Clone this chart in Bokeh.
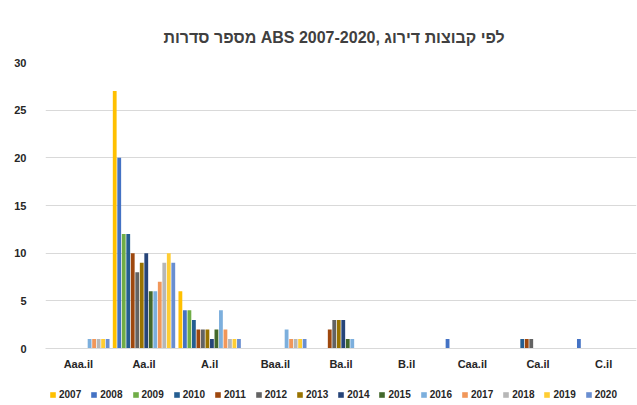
from bokeh.plotting import figure
from bokeh.layouts import column
from bokeh.models import FactorRange, ColumnDataSource, FixedTicker, Legend, LegendItem, Range1d
from bokeh.transform import dodge
from bokeh.embed import file_html
from bokeh.resources import INLINE

categories = ["Aaa.il", "Aa.il", "A.il", "Baa.il", "Ba.il", "B.il", "Caa.il", "Ca.il", "C.il"]
years = ["2007", "2008", "2009", "2010", "2011", "2012", "2013",
         "2014", "2015", "2016", "2017", "2018", "2019", "2020"]

v2007 = [0, 27, 6, 0, 0, 0, 0, 0, 0]
v2008 = [0, 20, 4, 0, 0, 0, 1, 0, 1]
v2009 = [0, 12, 4, 0, 0, 0, 0, 0, 0]
v2010 = [0, 12, 3, 0, 0, 0, 0, 1, 0]
v2011 = [0, 10, 2, 0, 2, 0, 0, 1, 0]
v2012 = [0, 8, 2, 0, 3, 0, 0, 1, 0]
v2013 = [0, 9, 2, 0, 3, 0, 0, 0, 0]
v2014 = [0, 10, 1, 0, 3, 0, 0, 0, 0]
v2015 = [0, 6, 2, 0, 1, 0, 0, 0, 0]
v2016 = [1, 6, 4, 2, 1, 0, 0, 0, 0]
v2017 = [1, 7, 2, 1, 0, 0, 0, 0, 0]
v2018 = [1, 9, 1, 1, 0, 0, 0, 0, 0]
v2019 = [1, 10, 1, 1, 0, 0, 0, 0, 0]
v2020 = [1, 9, 1, 1, 0, 0, 0, 0, 0]

series = [v2007, v2008, v2009, v2010, v2011, v2012, v2013,
          v2014, v2015, v2016, v2017, v2018, v2019, v2020]
colors = ["#FFC000", "#4472C4", "#70AD47", "#255E91", "#9E480E", "#636363", "#997300",
          "#264478", "#43682B", "#7CAFDD", "#F1975A", "#B7B7B7", "#FFCD33", "#698ED0"]

y_ticks = [0, 5, 10, 15, 20, 25, 30]
title_text = "מספר סדרות ABS 2007-2020, לפי קבוצות דירוג"

FONT = "Liberation Sans"

p = figure(x_range=FactorRange(factors=categories), y_range=(0, 30),
           width=637, height=378, output_backend="svg", toolbar_location=None,
           title=title_text,
           min_border_left=45, min_border_right=1, min_border_top=62,
           min_border_bottom=30)

p.title.align = "left"
p.title.offset = 118
p.title.text_font = FONT
p.title.text_font_size = "16px"
p.title.text_font_style = "bold"
p.title.text_color = "#404040"
p.title.standoff = 34

step = 0.0686
bw = 0.058
n = len(years)

# legend strip below the chart (its bars lie far outside its visible range)
lg = figure(width=637, height=27, output_backend="svg", toolbar_location=None,
            x_range=FactorRange(factors=categories), y_range=Range1d(1000, 1001),
            x_axis_location=None, y_axis_location=None, min_border=0)
lg.grid.grid_line_color = None
lg.outline_line_color = None
lg.outline_line_alpha = 0
lg.background_fill_color = None
lg.border_fill_color = None

items = []
for i, (yr, vals, col) in enumerate(zip(years, series, colors)):
    src = ColumnDataSource(dict(cat=categories, val=vals))
    off = (i - (n - 1) / 2) * step
    p.vbar(x=dodge("cat", off, range=p.x_range), top="val", width=bw,
           source=src, fill_color=col, line_color=None)
    key = lg.vbar(x=dodge("cat", off, range=lg.x_range), top="val", width=bw,
                  source=src, fill_color=col, line_color=None)
    items.append(LegendItem(label=yr, renderers=[key]))

legend = Legend(items=items, orientation="horizontal", location=(4, 5),
                label_text_font=FONT, label_text_font_style="bold",
                label_text_font_size="10px", label_text_color="#262626",
                glyph_width=7, glyph_height=7, label_standoff=3, spacing=9,
                label_height=12, border_line_color=None, background_fill_alpha=0,
                padding=2, margin=0)
lg.add_layout(legend, "center")

p.yaxis.ticker = FixedTicker(ticks=y_ticks)
p.yaxis.axis_line_color = None
p.yaxis.major_tick_line_color = None
p.yaxis.minor_tick_line_color = None
p.yaxis.major_label_text_font = FONT
p.yaxis.major_label_text_font_style = "bold"
p.yaxis.major_label_text_font_size = "11px"
p.yaxis.major_label_text_color = "#262626"
p.yaxis.major_label_standoff = 13

p.xaxis.axis_line_color = "#D9D9D9"
p.xaxis.major_tick_line_color = None
p.xaxis.minor_tick_line_color = None
p.xaxis.major_label_text_font = FONT
p.xaxis.major_label_text_font_style = "bold"
p.xaxis.major_label_text_font_size = "11px"
p.xaxis.major_label_text_color = "#262626"
p.xaxis.major_label_standoff = 3

p.xgrid.grid_line_color = None
p.ygrid.grid_line_color = "#D9D9D9"
p.outline_line_color = None

layout = column(p, lg, spacing=0)
open("out.html", "w").write(file_html(layout, INLINE))
